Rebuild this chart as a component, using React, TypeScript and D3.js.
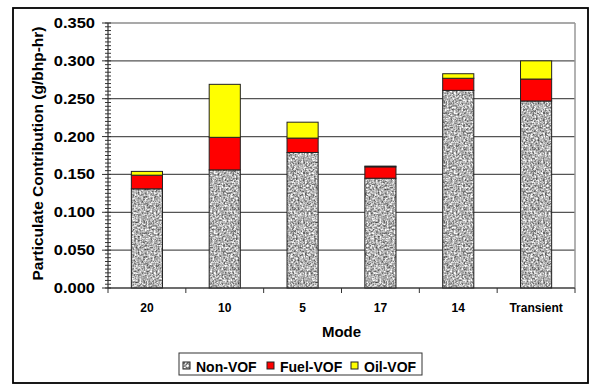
import React from "react";
import * as d3 from "d3";

const categories = ["20", "10", "5", "17", "14", "Transient"];
const nonVOF = [0.131, 0.156, 0.179, 0.145, 0.261, 0.247];
const fuelVOF = [0.018, 0.043, 0.019, 0.015, 0.016, 0.029];
const oilVOF = [0.005, 0.07, 0.021, 0.001, 0.006, 0.024];
const seriesNames = ["Non-VOF", "Fuel-VOF", "Oil-VOF"];
const yTicks = [0, 0.05, 0.1, 0.15, 0.2, 0.25, 0.3, 0.35];
const yTitle = "Particulate Contribution (g/bhp-hr)";
const xTitle = "Mode";

const W = 593, H = 385;
const left = 108, right = 575, top = 23, bottom = 288;
const fills = ["url(#granite)", "#FF0000", "#FFFF00"];
const FONT = "'Liberation Sans', Arial, sans-serif";

export default function App() {
  const x = d3.scaleBand<string>().domain(categories).range([left, right]).paddingInner(0.6).paddingOuter(0.3);
  const xb = d3.scaleBand<string>().domain(categories).range([left, right]);
  const y = d3.scaleLinear().domain([0, 0.35]).range([bottom, top]);
  const rows = categories.map((c, i) => ({ c, a: nonVOF[i], b: fuelVOF[i], o: oilVOF[i] }));
  const stack = d3.stack<any>().keys(["a", "b", "o"])(rows);
  const minor = d3.range(0, 0.3501, 0.005);

  return (
    <svg width={W} height={H} style={{ position: "absolute", left: 0, top: 0, background: "#fff" }} fontFamily={FONT}>
      <defs>
        <filter id="noise" x="0" y="0" width="100%" height="100%" filterUnits="userSpaceOnUse" colorInterpolationFilters="sRGB">
          <feTurbulence type="fractalNoise" baseFrequency="0.55" numOctaves="2" seed="4" result="n" />
          <feColorMatrix in="n" type="matrix"
            values="1.25 0 0 0 0.07  1.25 0 0 0 0.07  1.25 0 0 0 0.07  0 0 0 0 1" />
        </filter>
        <pattern id="granite" patternUnits="userSpaceOnUse" width="60" height="60">
          <rect width="60" height="60" fill="#a8a8a8" />
          <rect width="60" height="60" filter="url(#noise)" />
        </pattern>
      </defs>
      <rect x={0} y={0} width={W} height={H} fill="#fff" />
      <rect x={13} y={8} width={575} height={375} fill="#fff" stroke="#000" strokeWidth={1.8} />

      {/* gridlines */}
      {yTicks.map((t) => (
        <line key={"g" + t} x1={left} x2={right} y1={y(t)} y2={y(t)} stroke="#555" strokeWidth={1.2} />
      ))}
      <line x1={right} x2={right} y1={top} y2={bottom} stroke="#999" strokeWidth={1.5} />

      {/* bars */}
      {stack.map((s, si) =>
        s.map((d, i) => (
          <g key={si + "-" + i}>
            <rect x={x(categories[i])} y={y(d[1])} width={x.bandwidth()} height={Math.max(0, y(d[0]) - y(d[1]))}
              fill={fills[si]} stroke="#222" strokeWidth={1} />
          </g>
        ))
      )}

      {/* y axis */}
      <line x1={left} x2={left} y1={top} y2={bottom} stroke="#333" strokeWidth={1.2} />
      {minor.map((t) => (
        <line key={"m" + t} x1={left - 3} x2={left + 3} y1={y(t)} y2={y(t)} stroke="#333" strokeWidth={1} />
      ))}
      {yTicks.map((t) => (
        <g key={"yt" + t}>
          <line x1={left - 6} x2={left} y1={y(t)} y2={y(t)} stroke="#333" strokeWidth={1} />
          <text transform={`translate(95,${y(t) + 5}) scale(1.18,1)`} textAnchor="end" fontSize={14} fontWeight="bold" fill="#000">
            {d3.format(".3f")(t)}
          </text>
        </g>
      ))}
      <text transform={`translate(43,${(top + bottom) / 2 - 2}) rotate(-90)`} textAnchor="middle" fontSize={15.5} fontWeight="bold" fill="#000">
        {yTitle}
      </text>

      {/* x axis */}
      <line x1={left} x2={right} y1={bottom} y2={bottom} stroke="#333" strokeWidth={1.2} />
      {categories.concat(["__end"]).map((c, i) => {
        const px = i < categories.length ? (xb(c) as number) : right;
        return <line key={"xt" + i} x1={px} x2={px} y1={bottom} y2={bottom + 5} stroke="#333" strokeWidth={1} />;
      })}
      {categories.map((c) => (
        <text key={"xl" + c} x={(xb(c) as number) + xb.bandwidth() / 2} y={312} textAnchor="middle" fontSize={12} fontWeight="bold" fill="#000">
          {c}
        </text>
      ))}
      <text x={(left + right) / 2} y={337} textAnchor="middle" fontSize={15} fontWeight="bold" fill="#000">{xTitle}</text>

      {/* legend */}
      <rect x={179} y={353} width={243} height={22} fill="#fff" stroke="#333" strokeWidth={1} />
      {seriesNames.map((n, i) => {
        const lx = [183, 267, 351][i];
        return (
          <g key={n}>
            <rect x={lx} y={362} width={7} height={7} fill={fills[i]} stroke="#222" strokeWidth={1} />
            <text x={lx + 13} y={372} fontSize={14} fontWeight="bold" fill="#000">{n}</text>
          </g>
        );
      })}
    </svg>
  );
}
